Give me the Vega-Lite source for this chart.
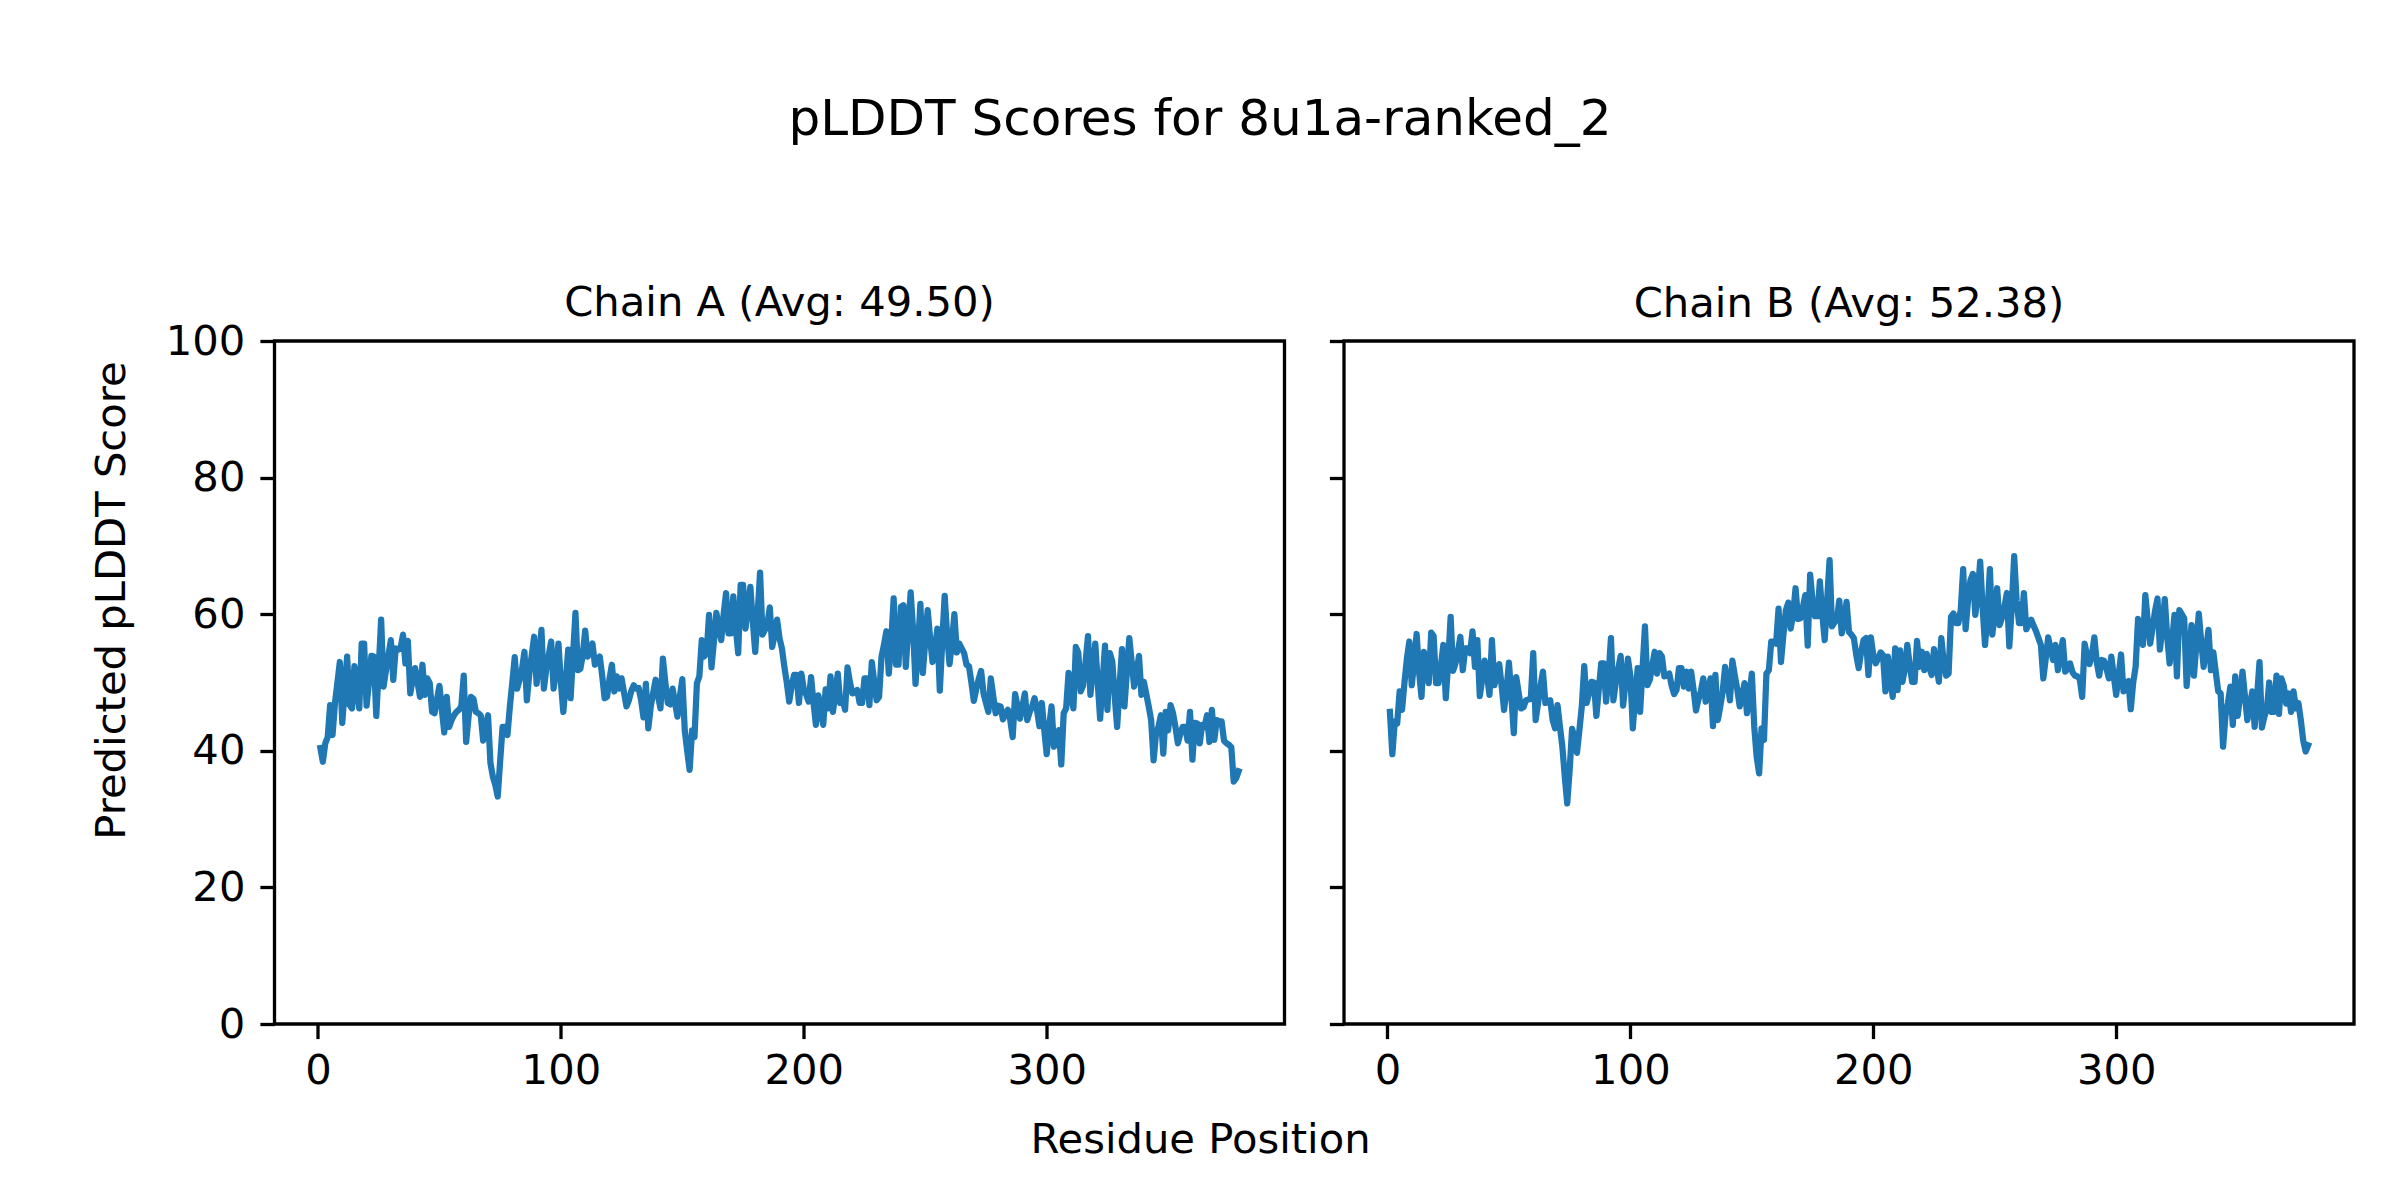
{
"$schema": "https://vega.github.io/schema/vega-lite/v6.json",
"autosize": {"type": "none"},
"padding": {"left": 274.5, "top": 341, "right": 2125.5, "bottom": 859},
"background": "white",
"config": {
  "font": "DejaVu Sans",
  "view": {"stroke": "black", "strokeWidth": 3.3},
  "axis": {"grid": false, "domain": false, "tickColor": "black", "tickWidth": 3.3, "tickSize": 14.6,
    "labelFont": "DejaVu Sans", "labelFontSize": 41.7, "labelColor": "black",
    "titleFont": "DejaVu Sans", "titleFontSize": 41.7, "titleFontWeight": "normal", "titleColor": "black"},
  "title": {"font": "DejaVu Sans", "fontWeight": "normal", "color": "black"}
},
"title": {"text": "pLDDT Scores for 8u1a-ranked_2", "fontSize": 50, "anchor": "start", "frame": "group", "align": "center", "dx": 925.5, "baseline": "alphabetic", "offset": 97},
"spacing": 59.5,
"bounds": "flush",
"data": {"values": [
{"r":1,"a":40.4,"b":45.7},{"r":2,"a":38.4,"b":39.5},{"r":3,"a":41.1,"b":44.3},{"r":4,"a":42.0,"b":44.0},{"r":5,"a":46.7,"b":48.7},
{"r":6,"a":42.3,"b":46.0},{"r":7,"a":47.0,"b":50.0},{"r":8,"a":50.0,"b":53.5},{"r":9,"a":53.0,"b":56.0},{"r":10,"a":44.1,"b":49.6},
{"r":11,"a":49.0,"b":53.0},{"r":12,"a":53.8,"b":57.1},{"r":13,"a":46.7,"b":51.6},{"r":14,"a":46.2,"b":47.9},{"r":15,"a":52.4,"b":54.5},
{"r":16,"a":49.0,"b":52.0},{"r":17,"a":46.2,"b":49.9},{"r":18,"a":55.7,"b":57.3},{"r":19,"a":55.7,"b":56.8},{"r":20,"a":46.6,"b":49.9},
{"r":21,"a":50.0,"b":49.9},{"r":22,"a":53.9,"b":52.5},{"r":23,"a":53.8,"b":55.5},{"r":24,"a":45.1,"b":47.7},{"r":25,"a":52.0,"b":53.0},
{"r":26,"a":59.2,"b":59.6},{"r":27,"a":49.4,"b":51.7},{"r":28,"a":51.8,"b":52.8},{"r":29,"a":54.0,"b":54.5},{"r":30,"a":56.2,"b":56.7},
{"r":31,"a":50.4,"b":51.8},{"r":32,"a":55.0,"b":55.0},{"r":33,"a":54.8,"b":55.0},{"r":34,"a":55.0,"b":54.3},{"r":35,"a":57.0,"b":57.5},
{"r":36,"a":52.8,"b":52.3},{"r":37,"a":56.1,"b":56.2},{"r":38,"a":48.4,"b":48.0},{"r":39,"a":50.5,"b":50.5},{"r":40,"a":52.1,"b":53.2},
{"r":41,"a":50.0,"b":51.0},{"r":42,"a":47.9,"b":48.2},{"r":43,"a":52.6,"b":56.2},{"r":44,"a":48.2,"b":49.6},{"r":45,"a":50.6,"b":51.0},
{"r":46,"a":49.9,"b":52.7},{"r":47,"a":45.7,"b":49.5},{"r":48,"a":45.5,"b":46.0},{"r":49,"a":47.5,"b":49.0},{"r":50,"a":49.5,"b":52.9},
{"r":51,"a":46.0,"b":48.0},{"r":52,"a":42.7,"b":42.6},{"r":53,"a":47.9,"b":50.8},{"r":54,"a":43.5,"b":48.5},{"r":55,"a":44.5,"b":46.2},
{"r":56,"a":45.2,"b":46.4},{"r":57,"a":45.7,"b":47.4},{"r":58,"a":46.0,"b":47.5},{"r":59,"a":46.5,"b":47.6},{"r":60,"a":51.0,"b":54.3},
{"r":61,"a":41.3,"b":44.5},{"r":62,"a":45.0,"b":47.0},{"r":63,"a":47.9,"b":49.5},{"r":64,"a":47.6,"b":51.6},{"r":65,"a":45.7,"b":47.0},
{"r":66,"a":45.5,"b":47.2},{"r":67,"a":45.2,"b":47.4},{"r":68,"a":41.5,"b":44.5},{"r":69,"a":43.5,"b":43.3},{"r":70,"a":45.2,"b":46.7},
{"r":71,"a":38.2,"b":43.5},{"r":72,"a":36.2,"b":40.6},{"r":73,"a":35.0,"b":36.2},{"r":74,"a":33.3,"b":32.3},{"r":75,"a":38.5,"b":37.2},
{"r":76,"a":43.5,"b":43.2},{"r":77,"a":43.5,"b":42.0},{"r":78,"a":42.3,"b":39.7},{"r":79,"a":46.5,"b":43.0},{"r":80,"a":50.0,"b":46.5},
{"r":81,"a":53.7,"b":52.4},{"r":82,"a":49.1,"b":47.0},{"r":83,"a":50.4,"b":48.5},{"r":84,"a":52.0,"b":50.1},{"r":85,"a":54.5,"b":50.0},
{"r":86,"a":47.4,"b":45.1},{"r":87,"a":51.3,"b":49.0},{"r":88,"a":54.0,"b":52.8},{"r":89,"a":56.7,"b":52.8},{"r":90,"a":49.8,"b":47.2},
{"r":91,"a":53.0,"b":51.0},{"r":92,"a":57.7,"b":56.5},{"r":93,"a":49.1,"b":47.4},{"r":94,"a":52.0,"b":50.0},{"r":95,"a":54.0,"b":52.0},
{"r":96,"a":56.0,"b":53.9},{"r":97,"a":49.1,"b":46.6},{"r":98,"a":52.0,"b":50.0},{"r":99,"a":55.7,"b":53.5},{"r":100,"a":50.0,"b":50.9},
{"r":101,"a":45.7,"b":43.3},{"r":102,"a":50.0,"b":48.0},{"r":103,"a":54.8,"b":52.1},{"r":104,"a":47.7,"b":45.7},{"r":105,"a":54.0,"b":52.0},
{"r":106,"a":60.2,"b":58.2},{"r":107,"a":51.8,"b":49.6},{"r":108,"a":52.0,"b":50.4},{"r":109,"a":54.0,"b":52.5},{"r":110,"a":57.6,"b":54.5},
{"r":111,"a":53.8,"b":51.3},{"r":112,"a":54.5,"b":54.3},{"r":113,"a":55.7,"b":53.8},{"r":114,"a":52.6,"b":50.9},{"r":115,"a":53.0,"b":51.0},
{"r":116,"a":53.8,"b":51.3},{"r":117,"a":51.0,"b":49.5},{"r":118,"a":47.7,"b":48.3},{"r":119,"a":47.9,"b":48.9},{"r":120,"a":50.5,"b":52.1},
{"r":121,"a":52.6,"b":52.1},{"r":122,"a":48.7,"b":49.4},{"r":123,"a":50.9,"b":51.6},{"r":124,"a":49.1,"b":49.1},{"r":125,"a":50.6,"b":51.6},
{"r":126,"a":48.5,"b":49.0},{"r":127,"a":46.5,"b":45.9},{"r":128,"a":47.4,"b":47.5},{"r":129,"a":48.8,"b":48.7},{"r":130,"a":49.6,"b":50.6},
{"r":131,"a":49.1,"b":47.2},{"r":132,"a":49.2,"b":49.0},{"r":133,"a":47.5,"b":50.6},{"r":134,"a":44.9,"b":43.6},{"r":135,"a":49.8,"b":51.1},
{"r":136,"a":43.3,"b":44.5},{"r":137,"a":46.5,"b":46.5},{"r":138,"a":48.5,"b":48.7},{"r":139,"a":50.4,"b":52.3},{"r":140,"a":48.0,"b":50.0},
{"r":141,"a":46.2,"b":47.4},{"r":142,"a":53.5,"b":53.2},{"r":143,"a":50.0,"b":51.0},{"r":144,"a":47.0,"b":49.0},{"r":145,"a":46.8,"b":46.5},
{"r":146,"a":49.1,"b":48.0},{"r":147,"a":47.0,"b":49.9},{"r":148,"a":45.0,"b":45.5},{"r":149,"a":48.0,"b":48.0},{"r":150,"a":50.5,"b":51.3},
{"r":151,"a":43.0,"b":43.5},{"r":152,"a":40.0,"b":39.1},{"r":153,"a":37.2,"b":36.7},{"r":154,"a":43.0,"b":43.3},{"r":155,"a":42.0,"b":41.6},
{"r":156,"a":49.9,"b":51.3},{"r":157,"a":50.9,"b":51.8},{"r":158,"a":56.2,"b":56.0},{"r":159,"a":53.8,"b":56.0},{"r":160,"a":54.3,"b":55.7},
{"r":161,"a":59.9,"b":60.8},{"r":162,"a":52.2,"b":53.0},{"r":163,"a":56.0,"b":57.0},{"r":164,"a":60.2,"b":60.6},{"r":165,"a":58.0,"b":61.7},
{"r":166,"a":56.2,"b":57.9},{"r":167,"a":60.0,"b":60.0},{"r":168,"a":63.1,"b":63.8},{"r":169,"a":57.2,"b":59.3},{"r":170,"a":57.2,"b":59.4},
{"r":171,"a":62.6,"b":61.0},{"r":172,"a":58.0,"b":62.8},{"r":173,"a":54.3,"b":55.4},{"r":174,"a":64.3,"b":65.8},{"r":175,"a":64.3,"b":62.0},
{"r":176,"a":57.9,"b":59.7},{"r":177,"a":61.0,"b":59.7},{"r":178,"a":64.0,"b":64.8},{"r":179,"a":59.0,"b":60.0},{"r":180,"a":54.5,"b":56.2},
{"r":181,"a":60.0,"b":62.0},{"r":182,"a":66.1,"b":67.9},{"r":183,"a":57.0,"b":58.2},{"r":184,"a":57.7,"b":58.8},{"r":185,"a":58.5,"b":59.2},
{"r":186,"a":61.0,"b":62.0},{"r":187,"a":55.2,"b":57.2},{"r":188,"a":57.0,"b":59.0},{"r":189,"a":59.2,"b":61.8},{"r":190,"a":56.5,"b":57.4},
{"r":191,"a":55.0,"b":57.0},{"r":192,"a":52.3,"b":56.5},{"r":193,"a":50.0,"b":54.0},{"r":194,"a":47.2,"b":52.1},{"r":195,"a":49.5,"b":54.5},
{"r":196,"a":51.1,"b":56.2},{"r":197,"a":51.1,"b":56.5},{"r":198,"a":47.0,"b":51.1},{"r":199,"a":51.3,"b":56.6},{"r":200,"a":49.0,"b":54.0},
{"r":201,"a":48.2,"b":52.8},{"r":202,"a":47.2,"b":53.5},{"r":203,"a":50.8,"b":54.4},{"r":204,"a":47.0,"b":54.0},{"r":205,"a":43.8,"b":48.7},
{"r":206,"a":48.1,"b":53.8},{"r":207,"a":46.0,"b":50.5},{"r":208,"a":43.8,"b":47.9},{"r":209,"a":49.0,"b":55.0},{"r":210,"a":46.2,"b":48.9},
{"r":211,"a":50.9,"b":54.7},{"r":212,"a":45.7,"b":50.1},{"r":213,"a":48.5,"b":52.0},{"r":214,"a":51.3,"b":55.5},{"r":215,"a":47.0,"b":52.5},
{"r":216,"a":47.5,"b":50.1},{"r":217,"a":46.0,"b":50.1},{"r":218,"a":52.2,"b":56.1},{"r":219,"a":50.0,"b":52.3},{"r":220,"a":48.4,"b":54.5},
{"r":221,"a":48.6,"b":51.8},{"r":222,"a":48.9,"b":54.2},{"r":223,"a":47.0,"b":52.3},{"r":224,"a":47.0,"b":51.1},{"r":225,"a":50.6,"b":54.9},
{"r":226,"a":50.6,"b":52.5},{"r":227,"a":46.7,"b":50.1},{"r":228,"a":53.0,"b":56.5},{"r":229,"a":50.1,"b":53.0},{"r":230,"a":47.4,"b":51.0},
{"r":231,"a":47.9,"b":51.3},{"r":232,"a":53.8,"b":59.6},{"r":233,"a":55.5,"b":60.1},{"r":234,"a":57.5,"b":58.7},{"r":235,"a":51.3,"b":58.7},
{"r":236,"a":56.0,"b":60.6},{"r":237,"a":62.3,"b":66.6},{"r":238,"a":52.6,"b":57.8},{"r":239,"a":52.6,"b":62.0},{"r":240,"a":61.1,"b":65.0},
{"r":241,"a":61.3,"b":65.9},{"r":242,"a":52.3,"b":59.9},{"r":243,"a":58.0,"b":63.0},{"r":244,"a":63.2,"b":67.7},{"r":245,"a":57.7,"b":61.0},
{"r":246,"a":49.8,"b":55.5},{"r":247,"a":55.0,"b":60.0},{"r":248,"a":61.5,"b":66.6},{"r":249,"a":51.4,"b":57.0},{"r":250,"a":56.0,"b":60.0},
{"r":251,"a":60.6,"b":63.8},{"r":252,"a":56.5,"b":58.4},{"r":253,"a":53.0,"b":59.5},{"r":254,"a":55.0,"b":61.1},{"r":255,"a":57.9,"b":63.1},
{"r":256,"a":48.8,"b":55.3},{"r":257,"a":56.0,"b":61.0},{"r":258,"a":62.7,"b":68.5},{"r":259,"a":57.0,"b":62.0},{"r":260,"a":52.7,"b":58.7},
{"r":261,"a":56.0,"b":58.7},{"r":262,"a":60.0,"b":63.1},{"r":263,"a":54.4,"b":57.8},{"r":264,"a":55.7,"b":58.5},{"r":265,"a":55.0,"b":59.2},
{"r":266,"a":54.3,"b":58.3},{"r":267,"a":52.6,"b":57.5},{"r":268,"a":52.4,"b":56.5},{"r":269,"a":50.0,"b":55.5},{"r":270,"a":47.3,"b":50.6},
{"r":271,"a":49.0,"b":53.5},{"r":272,"a":50.5,"b":56.6},{"r":273,"a":51.7,"b":55.0},{"r":274,"a":48.4,"b":53.3},{"r":275,"a":47.0,"b":55.5},
{"r":276,"a":45.7,"b":51.8},{"r":277,"a":50.6,"b":54.0},{"r":278,"a":48.0,"b":56.2},{"r":279,"a":45.5,"b":51.6},{"r":280,"a":46.6,"b":52.0},
{"r":281,"a":46.5,"b":52.8},{"r":282,"a":44.6,"b":51.5},{"r":283,"a":45.5,"b":51.0},{"r":284,"a":46.0,"b":50.9},{"r":285,"a":44.5,"b":50.5},
{"r":286,"a":42.0,"b":47.9},{"r":287,"a":48.3,"b":55.7},{"r":288,"a":46.5,"b":54.0},{"r":289,"a":44.7,"b":52.7},{"r":290,"a":46.5,"b":54.0},
{"r":291,"a":48.4,"b":56.6},{"r":292,"a":44.5,"b":53.0},{"r":293,"a":45.7,"b":51.0},{"r":294,"a":46.5,"b":53.3},{"r":295,"a":47.7,"b":53.2},
{"r":296,"a":46.0,"b":52.0},{"r":297,"a":43.6,"b":50.6},{"r":298,"a":47.0,"b":53.8},{"r":299,"a":43.0,"b":51.0},{"r":300,"a":39.5,"b":48.2},
{"r":301,"a":43.5,"b":51.0},{"r":302,"a":46.5,"b":54.1},{"r":303,"a":40.6,"b":48.7},{"r":304,"a":42.0,"b":50.0},{"r":305,"a":43.0,"b":50.2},
{"r":306,"a":38.0,"b":46.1},{"r":307,"a":45.5,"b":50.0},{"r":308,"a":46.2,"b":52.3},{"r":309,"a":51.4,"b":59.3},{"r":310,"a":48.0,"b":57.5},
{"r":311,"a":46.2,"b":55.5},{"r":312,"a":55.2,"b":62.8},{"r":313,"a":54.4,"b":59.0},{"r":314,"a":48.7,"b":55.7},{"r":315,"a":49.6,"b":58.0},
{"r":316,"a":53.0,"b":60.5},{"r":317,"a":56.8,"b":62.3},{"r":318,"a":48.2,"b":54.8},{"r":319,"a":52.0,"b":58.0},{"r":320,"a":55.7,"b":62.2},
{"r":321,"a":50.0,"b":56.7},{"r":322,"a":44.7,"b":52.8},{"r":323,"a":50.0,"b":56.0},{"r":324,"a":55.4,"b":59.9},{"r":325,"a":46.0,"b":50.9},
{"r":326,"a":54.3,"b":60.6},{"r":327,"a":53.1,"b":60.0},{"r":328,"a":48.0,"b":59.4},{"r":329,"a":43.5,"b":49.5},{"r":330,"a":49.5,"b":54.0},
{"r":331,"a":54.9,"b":58.4},{"r":332,"a":46.5,"b":51.0},{"r":333,"a":51.5,"b":55.5},{"r":334,"a":56.5,"b":60.1},{"r":335,"a":53.0,"b":56.0},
{"r":336,"a":49.4,"b":52.3},{"r":337,"a":51.5,"b":55.0},{"r":338,"a":53.9,"b":57.7},{"r":339,"a":48.2,"b":51.8},{"r":340,"a":50.1,"b":54.4},
{"r":341,"a":48.3,"b":51.5},{"r":342,"a":46.5,"b":48.7},{"r":343,"a":44.5,"b":48.4},{"r":344,"a":38.6,"b":40.6},{"r":345,"a":42.5,"b":45.2},
{"r":346,"a":43.5,"b":47.0},{"r":347,"a":45.2,"b":49.4},{"r":348,"a":39.6,"b":43.8},{"r":349,"a":45.7,"b":50.9},{"r":350,"a":43.0,"b":45.1},
{"r":351,"a":46.7,"b":48.0},{"r":352,"a":45.5,"b":51.6},{"r":353,"a":43.5,"b":48.0},{"r":354,"a":41.1,"b":44.5},{"r":355,"a":42.5,"b":46.5},
{"r":356,"a":43.5,"b":48.7},{"r":357,"a":43.5,"b":43.5},{"r":358,"a":41.5,"b":48.0},{"r":359,"a":45.7,"b":53.0},{"r":360,"a":38.7,"b":43.4},
{"r":361,"a":44.1,"b":45.0},{"r":362,"a":44.0,"b":46.0},{"r":363,"a":41.1,"b":50.0},{"r":364,"a":43.8,"b":45.7},{"r":365,"a":43.5,"b":45.7},
{"r":366,"a":45.2,"b":51.0},{"r":367,"a":41.3,"b":45.4},{"r":368,"a":46.0,"b":50.6},{"r":369,"a":41.6,"b":49.5},{"r":370,"a":44.5,"b":46.9},
{"r":371,"a":44.3,"b":48.4},{"r":372,"a":44.3,"b":45.7},{"r":373,"a":41.5,"b":48.7},{"r":374,"a":41.1,"b":46.2},{"r":375,"a":40.9,"b":47.0},
{"r":376,"a":40.5,"b":44.5},{"r":377,"a":35.5,"b":41.5},{"r":378,"a":36.0,"b":39.9},{"r":379,"a":37.0,"b":40.8}
]},
"hconcat": [
  {
    "width": 1010, "height": 683,
    "title": {"text": "Chain A (Avg: 49.50)", "fontSize": 41.7, "anchor": "middle", "frame": "group", "baseline": "alphabetic", "offset": -37},
    "mark": {"type": "line", "color": "#1f77b4", "strokeWidth": 6.25, "strokeCap": "square", "strokeJoin": "round"},
    "encoding": {
      "x": {"field": "r", "type": "quantitative", "scale": {"domain": [-17.9, 397.9], "nice": false, "zero": false},
        "axis": {"values": [0, 100, 200, 300], "title": "Residue Position", "titleX": 925.5, "titleY": 128, "titleBaseline": "alphabetic", "titleAlign": "center", "labelPadding": 12}},
      "y": {"field": "a", "type": "quantitative", "scale": {"domain": [0, 100], "nice": false},
        "axis": {"values": [0, 20, 40, 60, 80, 100], "title": "Predicted pLDDT Score", "titleX": -150, "titleY": 259, "titleAngle": 270, "titleBaseline": "alphabetic", "titleAlign": "center", "labelPadding": 15}}
    }
  },
  {
    "width": 1010, "height": 683,
    "title": {"text": "Chain B (Avg: 52.38)", "fontSize": 41.7, "anchor": "middle", "frame": "group", "baseline": "alphabetic", "offset": -19},
    "mark": {"type": "line", "color": "#1f77b4", "strokeWidth": 6.25, "strokeCap": "square", "strokeJoin": "round"},
    "encoding": {
      "x": {"field": "r", "type": "quantitative", "scale": {"domain": [-17.9, 397.9], "nice": false, "zero": false},
        "axis": {"values": [0, 100, 200, 300], "title": null, "labelPadding": 12}},
      "y": {"field": "b", "type": "quantitative", "scale": {"domain": [0, 100], "nice": false},
        "axis": {"values": [0, 20, 40, 60, 80, 100], "title": null, "labels": false}}
    }
  }
]
}
